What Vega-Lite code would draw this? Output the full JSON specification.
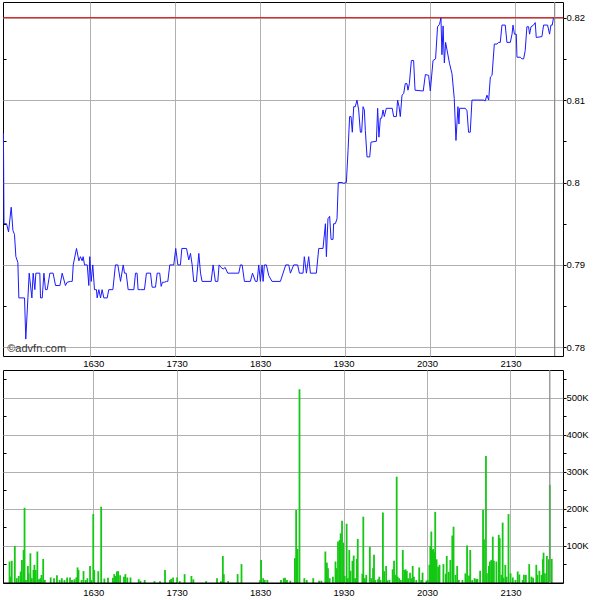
{
  "$schema": "https://vega.github.io/schema/vega-lite/v6.json",
  "padding": 0,
  "background": "white",
  "spacing": 14,
  "bounds": "flush",
  "datasets": {
    "price": [
      {"t":929.0,"p":0.806},{"t":929.4,"p":0.795},{"t":931.2,"p":0.795},{"t":932.6,"p":0.794},{"t":934.5,"p":0.797},{"t":935.7,"p":0.7942},{"t":936.8,"p":0.7937},{"t":937.8,"p":0.791},{"t":939.2,"p":0.7903},{"t":939.9,"p":0.786},{"t":943.9,"p":0.786},{"t":944.8,"p":0.781},{"t":946.3,"p":0.786},{"t":947.2,"p":0.789},{"t":949.1,"p":0.786},{"t":950.0,"p":0.789},{"t":951.2,"p":0.787},{"t":951.9,"p":0.789},{"t":954.7,"p":0.789},{"t":955.2,"p":0.786},{"t":956.4,"p":0.786},{"t":957.6,"p":0.789},{"t":958.7,"p":0.787},{"t":959.9,"p":0.787},{"t":961.8,"p":0.789},{"t":964.1,"p":0.789},{"t":965.8,"p":0.7875},{"t":968.9,"p":0.7875},{"t":970.5,"p":0.789},{"t":972.8,"p":0.7875},{"t":974.0,"p":0.7879},{"t":976.4,"p":0.788},{"t":977.6,"p":0.788},{"t":978.3,"p":0.79},{"t":980.6,"p":0.792},{"t":982.3,"p":0.7905},{"t":983.4,"p":0.791},{"t":984.6,"p":0.7905},{"t":985.3,"p":0.791},{"t":986.3,"p":0.79},{"t":988.2,"p":0.79},{"t":989.3,"p":0.7875},{"t":990.0,"p":0.791},{"t":991.0,"p":0.788},{"t":992.1,"p":0.79},{"t":993.3,"p":0.787},{"t":994.7,"p":0.787},{"t":995.2,"p":0.786},{"t":996.4,"p":0.787},{"t":997.6,"p":0.786},{"t":998.7,"p":0.787},{"t":999.9,"p":0.786},{"t":1002.3,"p":0.786},{"t":1003.4,"p":0.787},{"t":1006.3,"p":0.787},{"t":1008.1,"p":0.79},{"t":1009.8,"p":0.79},{"t":1011.7,"p":0.788},{"t":1013.6,"p":0.79},{"t":1014.5,"p":0.789},{"t":1015.7,"p":0.789},{"t":1017.1,"p":0.787},{"t":1021.1,"p":0.787},{"t":1022.3,"p":0.789},{"t":1023.4,"p":0.789},{"t":1024.1,"p":0.787},{"t":1025.8,"p":0.787},{"t":1028.6,"p":0.787},{"t":1030.0,"p":0.789},{"t":1032.9,"p":0.789},{"t":1034.0,"p":0.7873},{"t":1036.4,"p":0.7873},{"t":1037.6,"p":0.789},{"t":1039.4,"p":0.789},{"t":1040.4,"p":0.7874},{"t":1041.3,"p":0.7879},{"t":1042.7,"p":0.7879},{"t":1044.2,"p":0.788},{"t":1045.1,"p":0.788},{"t":1046.5,"p":0.79},{"t":1049.3,"p":0.79},{"t":1050.7,"p":0.792},{"t":1052.2,"p":0.79},{"t":1054.0,"p":0.79},{"t":1055.0,"p":0.792},{"t":1058.3,"p":0.792},{"t":1059.9,"p":0.7906},{"t":1061.1,"p":0.7914},{"t":1062.3,"p":0.79},{"t":1063.4,"p":0.788},{"t":1065.3,"p":0.788},{"t":1067.0,"p":0.7914},{"t":1068.2,"p":0.789},{"t":1069.3,"p":0.788},{"t":1075.7,"p":0.788},{"t":1077.1,"p":0.79},{"t":1078.7,"p":0.788},{"t":1080.4,"p":0.788},{"t":1081.3,"p":0.79},{"t":1082.7,"p":0.7897},{"t":1084.2,"p":0.7895},{"t":1085.6,"p":0.7897},{"t":1087.4,"p":0.789},{"t":1095.2,"p":0.789},{"t":1096.4,"p":0.79},{"t":1097.6,"p":0.79},{"t":1099.2,"p":0.788},{"t":1103.4,"p":0.788},{"t":1104.9,"p":0.789},{"t":1107.0,"p":0.788},{"t":1108.2,"p":0.788},{"t":1109.3,"p":0.79},{"t":1110.5,"p":0.788},{"t":1111.7,"p":0.79},{"t":1112.4,"p":0.788},{"t":1113.3,"p":0.79},{"t":1114.7,"p":0.79},{"t":1116.4,"p":0.7887},{"t":1118.7,"p":0.788},{"t":1124.6,"p":0.788},{"t":1126.5,"p":0.789},{"t":1128.4,"p":0.79},{"t":1130.5,"p":0.79},{"t":1131.7,"p":0.789},{"t":1134.0,"p":0.79},{"t":1136.8,"p":0.79},{"t":1138.0,"p":0.789},{"t":1140.6,"p":0.789},{"t":1141.5,"p":0.791},{"t":1143.0,"p":0.789},{"t":1144.6,"p":0.791},{"t":1145.8,"p":0.789},{"t":1150.0,"p":0.789},{"t":1151.7,"p":0.792},{"t":1154.7,"p":0.792},{"t":1156.4,"p":0.795},{"t":1157.1,"p":0.791},{"t":1158.2,"p":0.7956},{"t":1159.4,"p":0.7959},{"t":1160.4,"p":0.7931},{"t":1161.8,"p":0.7931},{"t":1162.2,"p":0.795},{"t":1163.4,"p":0.795},{"t":1164.6,"p":0.7956},{"t":1165.5,"p":0.8},{"t":1168.1,"p":0.8},{"t":1169.3,"p":0.7999},{"t":1171.2,"p":0.8},{"t":1172.4,"p":0.8039},{"t":1173.5,"p":0.808},{"t":1174.5,"p":0.808},{"t":1175.4,"p":0.8061},{"t":1176.4,"p":0.8092},{"t":1177.5,"p":0.8092},{"t":1178.7,"p":0.81},{"t":1179.9,"p":0.8088},{"t":1181.1,"p":0.8061},{"t":1182.0,"p":0.8061},{"t":1183.0,"p":0.8092},{"t":1183.9,"p":0.8088},{"t":1184.6,"p":0.8063},{"t":1185.8,"p":0.8031},{"t":1187.7,"p":0.8031},{"t":1188.6,"p":0.8049},{"t":1192.4,"p":0.805},{"t":1193.3,"p":0.809},{"t":1194.2,"p":0.8055},{"t":1195.2,"p":0.8078},{"t":1196.1,"p":0.8078},{"t":1197.1,"p":0.8088},{"t":1198.0,"p":0.808},{"t":1199.4,"p":0.809},{"t":1203.6,"p":0.809},{"t":1204.6,"p":0.808},{"t":1206.5,"p":0.808},{"t":1207.4,"p":0.81},{"t":1208.4,"p":0.8092},{"t":1209.3,"p":0.808},{"t":1210.5,"p":0.8106},{"t":1211.7,"p":0.8108},{"t":1212.8,"p":0.812},{"t":1214.0,"p":0.812},{"t":1214.7,"p":0.8112},{"t":1215.7,"p":0.812},{"t":1217.1,"p":0.8148},{"t":1218.7,"p":0.8148},{"t":1219.7,"p":0.8112},{"t":1225.5,"p":0.8111},{"t":1227.0,"p":0.8131},{"t":1229.3,"p":0.813},{"t":1230.5,"p":0.8111},{"t":1232.4,"p":0.8148},{"t":1234.2,"p":0.815},{"t":1235.6,"p":0.8189},{"t":1237.0,"p":0.8192},{"t":1238.0,"p":0.82},{"t":1238.7,"p":0.8155},{"t":1239.5,"p":0.819},{"t":1240.4,"p":0.8145},{"t":1241.3,"p":0.817},{"t":1244.1,"p":0.8144},{"t":1245.8,"p":0.8132},{"t":1247.4,"p":0.8102},{"t":1248.6,"p":0.8051},{"t":1250.0,"p":0.8092},{"t":1250.7,"p":0.8071},{"t":1251.2,"p":0.809},{"t":1255.2,"p":0.809},{"t":1256.4,"p":0.8087},{"t":1257.5,"p":0.8061},{"t":1258.7,"p":0.8061},{"t":1259.9,"p":0.81},{"t":1268.1,"p":0.81},{"t":1269.3,"p":0.8099},{"t":1270.5,"p":0.8106},{"t":1271.7,"p":0.81},{"t":1272.9,"p":0.8128},{"t":1274.1,"p":0.813},{"t":1275.7,"p":0.8168},{"t":1277.6,"p":0.8168},{"t":1278.7,"p":0.817},{"t":1279.9,"p":0.817},{"t":1281.1,"p":0.8191},{"t":1283.4,"p":0.8191},{"t":1284.6,"p":0.817},{"t":1287.0,"p":0.817},{"t":1288.2,"p":0.818},{"t":1288.9,"p":0.8191},{"t":1289.9,"p":0.818},{"t":1291.2,"p":0.818},{"t":1291.7,"p":0.8152},{"t":1294.0,"p":0.8152},{"t":1295.2,"p":0.815},{"t":1296.4,"p":0.815},{"t":1297.5,"p":0.816},{"t":1298.7,"p":0.8189},{"t":1299.9,"p":0.8189},{"t":1300.6,"p":0.818},{"t":1301.6,"p":0.8189},{"t":1303.4,"p":0.8191},{"t":1304.6,"p":0.8194},{"t":1305.3,"p":0.8176},{"t":1309.3,"p":0.8177},{"t":1310.5,"p":0.8191},{"t":1313.3,"p":0.8191},{"t":1314.7,"p":0.818},{"t":1315.7,"p":0.8191},{"t":1316.6,"p":0.8191},{"t":1317.5,"p":0.82},{"t":1318.7,"p":0.82}
    ],
    "volume": [
      {"t":929.8,"v":58000},{"t":930.5,"v":17000},{"t":931.4,"v":60000},{"t":933.6,"v":100000},{"t":935.0,"v":13000},{"t":936.4,"v":19000},{"t":937.8,"v":31000},{"t":938.7,"v":62000},{"t":939.9,"v":89000},{"t":940.6,"v":203000},{"t":941.6,"v":8000},{"t":943.0,"v":46000},{"t":943.5,"v":26000},{"t":944.8,"v":80000},{"t":945.8,"v":13000},{"t":947.0,"v":35000},{"t":947.7,"v":49000},{"t":948.6,"v":35000},{"t":949.8,"v":85000},{"t":951.0,"v":10000},{"t":952.1,"v":13000},{"t":952.8,"v":22000},{"t":954.0,"v":65000},{"t":955.2,"v":8000},{"t":959.4,"v":15000},{"t":961.8,"v":13000},{"t":963.9,"v":21000},{"t":965.8,"v":8000},{"t":967.4,"v":13000},{"t":969.3,"v":8000},{"t":971.2,"v":15000},{"t":973.3,"v":15000},{"t":974.7,"v":8000},{"t":976.4,"v":10000},{"t":977.8,"v":15000},{"t":978.7,"v":42000},{"t":979.4,"v":35000},{"t":981.6,"v":8000},{"t":983.0,"v":32000},{"t":984.6,"v":8000},{"t":985.8,"v":13000},{"t":987.7,"v":46000},{"t":988.6,"v":8000},{"t":990.0,"v":186000},{"t":990.7,"v":35000},{"t":993.6,"v":32000},{"t":995.7,"v":206000},{"t":998.0,"v":12000},{"t":1000.6,"v":14000},{"t":1004.1,"v":14000},{"t":1005.1,"v":24000},{"t":1006.0,"v":19000},{"t":1007.0,"v":31000},{"t":1007.9,"v":32000},{"t":1009.3,"v":21000},{"t":1012.1,"v":17000},{"t":1013.1,"v":24000},{"t":1014.5,"v":15000},{"t":1016.8,"v":15000},{"t":1022.7,"v":10000},{"t":1023.9,"v":6000},{"t":1027.0,"v":8000},{"t":1034.0,"v":5000},{"t":1038.0,"v":5000},{"t":1041.6,"v":35000},{"t":1045.1,"v":8000},{"t":1046.0,"v":11000},{"t":1047.4,"v":15000},{"t":1050.3,"v":15000},{"t":1052.2,"v":5000},{"t":1055.7,"v":24000},{"t":1060.6,"v":19000},{"t":1062.0,"v":10000},{"t":1071.2,"v":5000},{"t":1079.0,"v":13000},{"t":1081.8,"v":5000},{"t":1083.2,"v":73000},{"t":1083.9,"v":24000},{"t":1087.0,"v":5000},{"t":1093.8,"v":24000},{"t":1096.6,"v":51000},{"t":1110.0,"v":8000},{"t":1110.7,"v":62000},{"t":1112.2,"v":13000},{"t":1113.3,"v":8000},{"t":1115.2,"v":8000},{"t":1125.0,"v":8000},{"t":1127.0,"v":13000},{"t":1127.9,"v":14000},{"t":1129.3,"v":8000},{"t":1131.7,"v":6000},{"t":1135.0,"v":67000},{"t":1135.9,"v":197000},{"t":1136.9,"v":92000},{"t":1138.3,"v":523000},{"t":1141.8,"v":13000},{"t":1143.5,"v":8000},{"t":1148.2,"v":13000},{"t":1152.4,"v":6000},{"t":1154.0,"v":6000},{"t":1156.9,"v":85000},{"t":1158.0,"v":55000},{"t":1158.8,"v":40000},{"t":1160.0,"v":13000},{"t":1162.3,"v":17000},{"t":1164.2,"v":58000},{"t":1165.1,"v":40000},{"t":1166.0,"v":112000},{"t":1167.2,"v":116000},{"t":1167.9,"v":134000},{"t":1168.9,"v":168000},{"t":1169.8,"v":109000},{"t":1170.8,"v":19000},{"t":1172.2,"v":160000},{"t":1173.1,"v":13000},{"t":1174.1,"v":89000},{"t":1175.0,"v":33000},{"t":1176.4,"v":60000},{"t":1177.3,"v":74000},{"t":1178.3,"v":13000},{"t":1179.5,"v":65000},{"t":1180.2,"v":119000},{"t":1183.5,"v":25000},{"t":1184.2,"v":179000},{"t":1185.3,"v":13000},{"t":1186.3,"v":22000},{"t":1188.9,"v":98000},{"t":1190.0,"v":13000},{"t":1191.2,"v":40000},{"t":1191.9,"v":76000},{"t":1192.9,"v":8000},{"t":1194.8,"v":10000},{"t":1195.7,"v":17000},{"t":1196.6,"v":8000},{"t":1198.3,"v":190000},{"t":1199.2,"v":32000},{"t":1200.6,"v":46000},{"t":1201.6,"v":7000},{"t":1203.0,"v":8000},{"t":1205.3,"v":37000},{"t":1206.3,"v":60000},{"t":1207.0,"v":22000},{"t":1208.2,"v":287000},{"t":1208.9,"v":17000},{"t":1210.0,"v":13000},{"t":1211.2,"v":8000},{"t":1212.6,"v":89000},{"t":1213.6,"v":35000},{"t":1214.5,"v":37000},{"t":1215.5,"v":33000},{"t":1216.4,"v":13000},{"t":1217.8,"v":28000},{"t":1218.8,"v":13000},{"t":1219.7,"v":46000},{"t":1220.6,"v":17000},{"t":1222.3,"v":8000},{"t":1224.4,"v":42000},{"t":1225.8,"v":8000},{"t":1226.8,"v":28000},{"t":1229.6,"v":6000},{"t":1230.5,"v":8000},{"t":1231.7,"v":49000},{"t":1232.4,"v":100000},{"t":1233.1,"v":139000},{"t":1233.8,"v":89000},{"t":1234.5,"v":92000},{"t":1235.2,"v":83000},{"t":1235.9,"v":192000},{"t":1236.9,"v":64000},{"t":1238.0,"v":44000},{"t":1239.0,"v":49000},{"t":1241.8,"v":51000},{"t":1243.5,"v":25000},{"t":1244.2,"v":73000},{"t":1245.6,"v":30000},{"t":1246.8,"v":62000},{"t":1248.2,"v":128000},{"t":1249.1,"v":152000},{"t":1250.5,"v":22000},{"t":1251.7,"v":46000},{"t":1252.9,"v":8000},{"t":1255.5,"v":8000},{"t":1257.6,"v":26000},{"t":1258.8,"v":101000},{"t":1260.2,"v":20000},{"t":1261.1,"v":89000},{"t":1262.5,"v":8000},{"t":1264.2,"v":13000},{"t":1265.4,"v":11000},{"t":1266.3,"v":11000},{"t":1268.2,"v":33000},{"t":1270.3,"v":197000},{"t":1271.0,"v":118000},{"t":1272.4,"v":343000},{"t":1273.1,"v":26000},{"t":1274.5,"v":46000},{"t":1275.2,"v":58000},{"t":1276.2,"v":62000},{"t":1277.3,"v":125000},{"t":1278.1,"v":60000},{"t":1279.9,"v":58000},{"t":1281.6,"v":130000},{"t":1282.3,"v":121000},{"t":1283.5,"v":22000},{"t":1284.4,"v":163000},{"t":1285.1,"v":14000},{"t":1286.3,"v":49000},{"t":1287.2,"v":17000},{"t":1288.6,"v":186000},{"t":1290.1,"v":26000},{"t":1291.7,"v":15000},{"t":1293.6,"v":8000},{"t":1295.2,"v":31000},{"t":1296.4,"v":23000},{"t":1298.8,"v":8000},{"t":1299.7,"v":22000},{"t":1301.1,"v":22000},{"t":1303.5,"v":51000},{"t":1305.1,"v":17000},{"t":1306.3,"v":14000},{"t":1308.6,"v":49000},{"t":1309.3,"v":22000},{"t":1310.8,"v":33000},{"t":1312.4,"v":22000},{"t":1313.3,"v":64000},{"t":1313.8,"v":82000},{"t":1314.8,"v":26000},{"t":1316.2,"v":73000},{"t":1317.6,"v":64000},{"t":1318.3,"v":265000},{"t":1319.7,"v":65000}
    ],
    "ref": [{"p": 0.82}],
    "base": [{"v": 0}],
    "marker": [{"t": 1318.3}],
    "credit": [{"t": 931.7, "p": 0.7798, "label": "©advfn.com"}]
  },
  "vconcat": [
    {
      "width": 560,
      "height": 354,
      "resolve": {"axis": {"y": "independent"}},
      "layer": [
        {
          "data": {"name": "price"},
          "mark": {"type": "line", "color": "#1a1aff", "strokeWidth": 1, "interpolate": "linear"},
          "encoding": {
            "x": {"field": "t", "type": "quantitative", "scale": {"domain": [928.7, 1324.2], "nice": false, "zero": false},
                  "axis": {"orient": "bottom", "values": [990, 1050, 1110, 1170, 1230, 1290], "labels": false, "ticks": false, "domain": false, "grid": true, "title": null}},
            "y": {"field": "p", "type": "quantitative", "scale": {"domain": [0.77895, 0.8219], "nice": false, "zero": false},
                  "axis": {"orient": "right", "values": [0.78, 0.785, 0.79, 0.795, 0.8, 0.805, 0.81, 0.815, 0.82],
                           "labelExpr": "round(datum.value*1000) % 10 == 0 ? format(datum.value, '.2~f') : ''",
                           "gridOpacity": {"condition": {"test": "round(datum.value*1000) % 10 == 0", "value": 1}, "value": 0},
                           "tickSize": 3, "labelPadding": 0, "domain": false, "grid": true, "title": null}}
          }
        },
        {
          "data": {"name": "ref"},
          "mark": {"type": "rule", "color": "#dd0000", "strokeWidth": 1},
          "encoding": {"y": {"field": "p", "type": "quantitative", "scale": {"domain": [0.77895, 0.8219], "nice": false, "zero": false},
                             "axis": {"orient": "left", "values": [0.785, 0.795, 0.805, 0.815], "labels": false, "grid": false, "domain": false, "tickSize": -3, "title": null}}}
        },
        {
          "data": {"name": "marker"},
          "mark": {"type": "rule", "color": "#888888", "strokeWidth": 1.2},
          "encoding": {"x": {"field": "t", "type": "quantitative", "scale": {"domain": [928.7, 1324.2], "nice": false, "zero": false}}}
        },
        {
          "data": {"name": "credit"},
          "mark": {"type": "text", "align": "left", "baseline": "middle", "font": "Liberation Sans", "fontSize": 11, "color": "#333333"},
          "encoding": {
            "x": {"field": "t", "type": "quantitative", "scale": {"domain": [928.7, 1324.2], "nice": false, "zero": false}},
            "y": {"field": "p", "type": "quantitative", "scale": {"domain": [0.77895, 0.8219], "nice": false, "zero": false}, "axis": null},
            "text": {"field": "label"}
          }
        }
      ]
    },
    {
      "width": 560,
      "height": 213,
      "resolve": {"axis": {"y": "independent"}},
      "layer": [
        {
          "data": {"name": "volume"},
          "mark": {"type": "bar", "color": "#14c814", "width": 1.8},
          "encoding": {
            "x": {"field": "t", "type": "quantitative", "scale": {"domain": [928.7, 1324.2], "nice": false, "zero": false},
                  "axis": {"orient": "bottom", "values": [990, 1050, 1110, 1170, 1230, 1290],
                           "labelExpr": "format(floor(datum.value/60), '02d') + format(datum.value % 60, '02d')",
                           "ticks": false, "domain": false, "grid": true, "labelPadding": 4, "title": null}},
            "y": {"field": "v", "type": "quantitative", "scale": {"domain": [0, 575000], "nice": false},
                  "axis": {"orient": "right", "values": [50000, 100000, 150000, 200000, 250000, 300000, 350000, 400000, 450000, 500000, 550000],
                           "labelExpr": "datum.value % 100000 == 0 ? (datum.value/1000) + 'K' : ''",
                           "gridOpacity": {"condition": {"test": "datum.value % 100000 == 0", "value": 1}, "value": 0},
                           "tickSize": 3, "labelPadding": 0, "domain": false, "grid": true, "title": null}}
          }
        },
        {
          "data": {"name": "base"},
          "mark": {"type": "rule", "color": "#000000", "strokeWidth": 1},
          "encoding": {"y": {"field": "v", "type": "quantitative", "scale": {"domain": [0, 575000], "nice": false},
                             "axis": {"orient": "left", "values": [50000, 150000, 250000, 350000, 450000, 550000], "labels": false, "grid": false, "domain": false, "tickSize": -3, "title": null}}}
        },
        {
          "data": {"name": "marker"},
          "mark": {"type": "rule", "color": "#888888", "strokeWidth": 1.2},
          "encoding": {"x": {"field": "t", "type": "quantitative", "scale": {"domain": [928.7, 1324.2], "nice": false, "zero": false},
                             "axis": {"orient": "top", "values": [990, 1050, 1110, 1170, 1230, 1290],
                                      "labelExpr": "format(floor(datum.value/60), '02d') + format(datum.value % 60, '02d')",
                                      "ticks": false, "domain": false, "grid": false, "labelPadding": 2, "title": null}}}
        }
      ]
    }
  ],
  "config": {
    "view": {"stroke": "#000000", "strokeWidth": 1},
    "axis": {"labelFont": "Liberation Sans", "labelFontSize": 9.5, "labelColor": "#000000", "gridColor": "#b0b0b0", "gridWidth": 1, "tickColor": "#000000"}
  }
}
